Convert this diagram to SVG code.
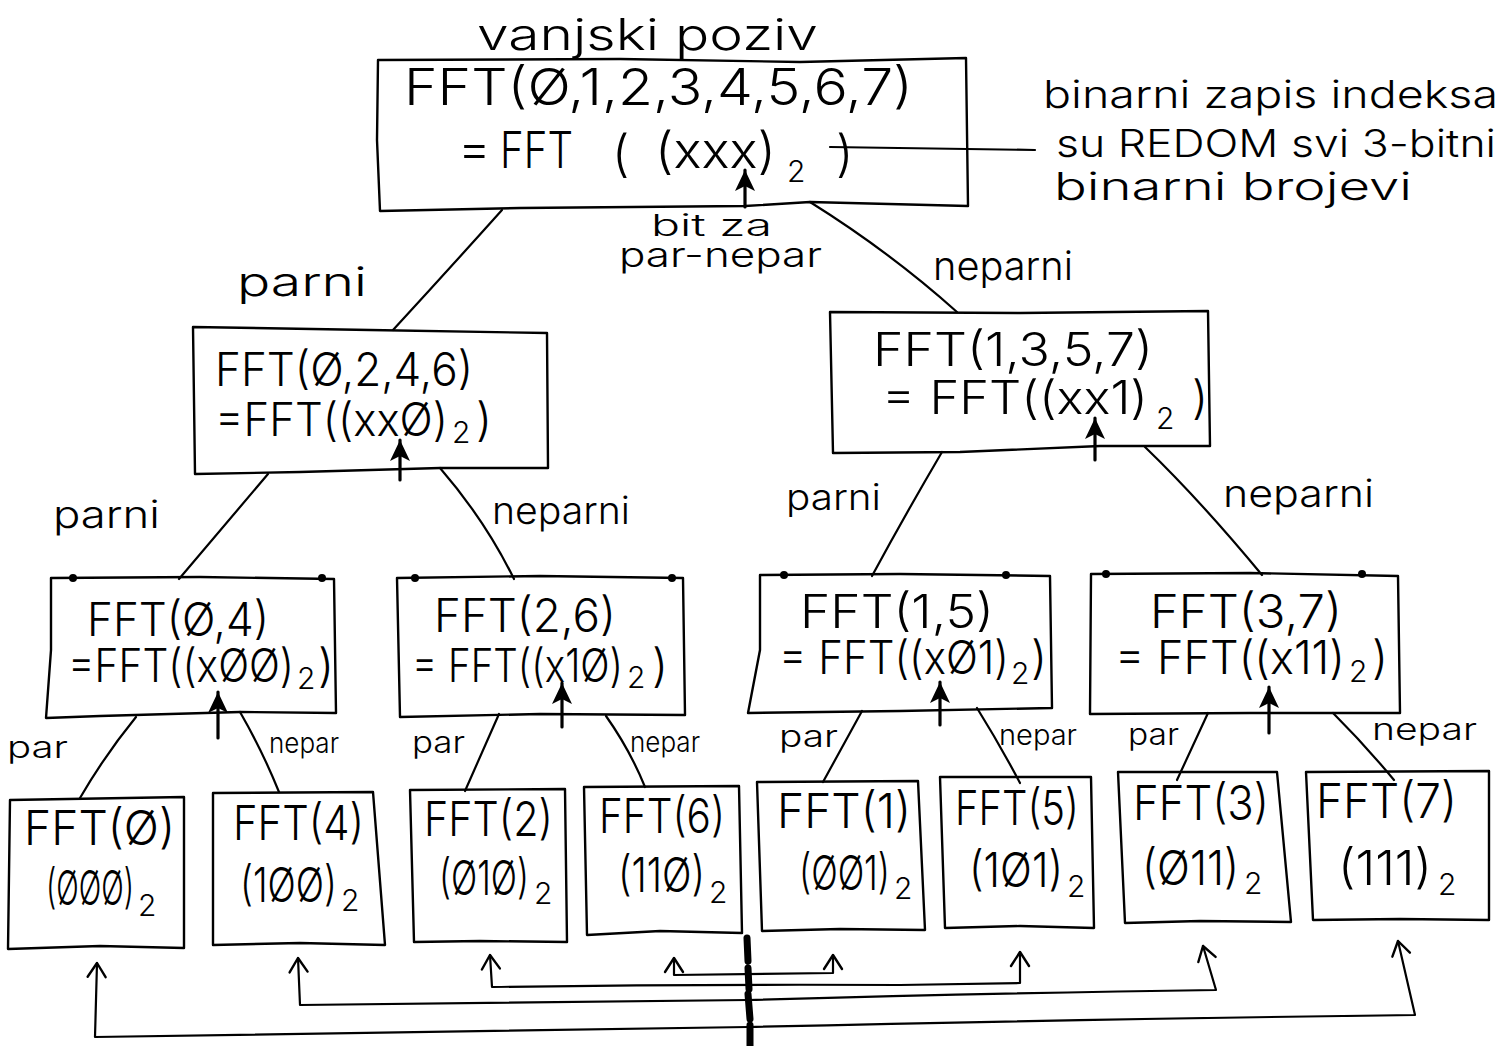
<svg xmlns="http://www.w3.org/2000/svg" width="1504" height="1046" viewBox="0 0 1504 1046">
  <defs>
    <style>
      .bg { fill: #ffffff; }
      .box { fill: none; stroke: #000; stroke-width: 2.4; stroke-linejoin: round; stroke-linecap: round; }
      .ln { fill: none; stroke: #000; stroke-width: 2.2; stroke-linejoin: round; stroke-linecap: round; }
      .bit { fill: none; stroke: #000; stroke-width: 3.2; stroke-linecap: round; }
      .mid { fill: none; stroke: #000; stroke-width: 7; stroke-linecap: round; }
      .dot { fill: #000; }
      .t { font-family: Inter, "Liberation Sans", "DejaVu Sans", sans-serif; font-weight: 300; fill: #000; }
      .f50 { font-size: 50px; }
      .f46 { font-size: 46px; }
      .f48 { font-size: 48px; }
      .f44 { font-size: 44px; }
      .f40 { font-size: 40px; }
      .f38 { font-size: 38px; }
      .f36 { font-size: 36px; }
      .f34 { font-size: 34px; }
      .f30 { font-size: 30px; }
      .f28 { font-size: 28px; }
      .sub { font-size: 30px; }
    </style>
    <!-- filled head marking the bit that splits even / odd -->
    <marker id="bitHead" viewBox="-4 -12 26 24" refX="18" refY="0" markerWidth="26" markerHeight="24" markerUnits="userSpaceOnUse" orient="auto">
      <path d="M18,0 L-3,-10 L2,0 L-3,10 Z" fill="#000"/>
    </marker>
    <!-- open head for the reordering arrows -->
    <marker id="openHead" viewBox="-16 -12 20 24" refX="0" refY="0" markerWidth="20" markerHeight="24" markerUnits="userSpaceOnUse" orient="auto-start-reverse" overflow="visible">
      <path d="M-14,-9 L0,0 L-14,9" fill="none" stroke="#000" stroke-width="2.4" stroke-linecap="round" stroke-linejoin="round"/>
    </marker>
  </defs>

  <rect class="bg" x="0" y="0" width="1504" height="1046"/>

  <!-- free labels -->
  <g id="labels">
    <text class="t f44" x="477" y="50" textLength="341" lengthAdjust="spacingAndGlyphs">vanjski poziv</text>
    <text class="t f38" x="1043" y="108" textLength="455" lengthAdjust="spacingAndGlyphs">binarni zapis indeksa</text>
    <text class="t f38" x="1056" y="157" textLength="440" lengthAdjust="spacingAndGlyphs">su REDOM svi 3-bitni</text>
    <text class="t f38" x="1054" y="200" textLength="358" lengthAdjust="spacingAndGlyphs">binarni brojevi</text>
    <text class="t f30" x="651" y="236" textLength="121" lengthAdjust="spacingAndGlyphs">bit za</text>
    <text class="t f34" x="619" y="267" textLength="203" lengthAdjust="spacingAndGlyphs">par-nepar</text>
    <text class="t f40" x="237" y="296" textLength="130" lengthAdjust="spacingAndGlyphs">parni</text>
    <text class="t f40" x="933" y="280" textLength="140" lengthAdjust="spacingAndGlyphs">neparni</text>
    <text class="t f38" x="53" y="528" textLength="107" lengthAdjust="spacingAndGlyphs">parni</text>
    <text class="t f38" x="492" y="524" textLength="138" lengthAdjust="spacingAndGlyphs">neparni</text>
    <text class="t f36" x="786" y="510" textLength="95" lengthAdjust="spacingAndGlyphs">parni</text>
    <text class="t f38" x="1223" y="507" textLength="151" lengthAdjust="spacingAndGlyphs">neparni</text>
    <text class="t f30" x="7" y="758" textLength="61" lengthAdjust="spacingAndGlyphs">par</text>
    <text class="t f28" x="269" y="753" textLength="70" lengthAdjust="spacingAndGlyphs">nepar</text>
    <text class="t f30" x="412" y="753" textLength="53" lengthAdjust="spacingAndGlyphs">par</text>
    <text class="t f28" x="630" y="752" textLength="70" lengthAdjust="spacingAndGlyphs">nepar</text>
    <text class="t f30" x="779" y="747" textLength="59" lengthAdjust="spacingAndGlyphs">par</text>
    <text class="t f28" x="999" y="745" textLength="78" lengthAdjust="spacingAndGlyphs">nepar</text>
    <text class="t f30" x="1128" y="745" textLength="51" lengthAdjust="spacingAndGlyphs">par</text>
    <text class="t f30" x="1372" y="740" textLength="105" lengthAdjust="spacingAndGlyphs">nepar</text>
  </g>

  <!-- root call -->
  <g id="fft-root">
    <path class="box" d="M378,60 L620,59 L800,62 L966,58 L968,206 L810,202 L745,206 L520,208 L380,211 L377,140 Z"/>
    <text class="t f50" x="404" y="105" textLength="509" lengthAdjust="spacingAndGlyphs">FFT(Ø,1,2,3,4,5,6,7)</text>
    <text class="t f50" x="458" y="166">=</text>
    <text class="t f50" x="500" y="168" textLength="73" lengthAdjust="spacingAndGlyphs">FFT</text>
    <text class="t f50" x="612" y="171">(</text>
    <text class="t f50" x="655" y="168" textLength="121" lengthAdjust="spacingAndGlyphs">(xxx)</text>
    <text class="t sub" x="787" y="182">2</text>
    <text class="t f50" x="836" y="171">)</text>
  </g>

  <!-- even half -->
  <g id="fft-even">
    <path class="box" d="M193,327 L370,330 L547,333 L548,468 L440,468 L300,472 L195,474 Z"/>
    <text class="t f46" x="215" y="386" textLength="258" lengthAdjust="spacingAndGlyphs">FFT(Ø,2,4,6)</text>
    <text class="t f46" x="215" y="436" textLength="233" lengthAdjust="spacingAndGlyphs">=FFT((xxØ)</text>
    <text class="t sub" x="452" y="443">2</text>
    <text class="t f46" x="476" y="436">)</text>
  </g>

  <!-- odd half -->
  <g id="fft-odd">
    <path class="box" d="M830,312 L1020,313 L1208,311 L1210,446 L1100,446 L960,452 L833,453 Z"/>
    <text class="t f46" x="873" y="366" textLength="280" lengthAdjust="spacingAndGlyphs">FFT(1,3,5,7)</text>
    <text class="t f46" x="882" y="414" textLength="266" lengthAdjust="spacingAndGlyphs">= FFT((xx1)</text>
    <text class="t sub" x="1156" y="429">2</text>
    <text class="t f46" x="1192" y="414">)</text>
  </g>

  <!-- quarter calls -->
  <g id="fft-0-4">
    <path class="box" d="M51,578 L200,577 L334,579 L336,713 L240,712 L100,716 L46,718 L51,650 Z"/>
    <circle class="dot" cx="73" cy="578" r="4"/>
    <circle class="dot" cx="322" cy="578" r="4"/>
    <text class="t f46" x="87" y="636" textLength="182" lengthAdjust="spacingAndGlyphs">FFT(Ø,4)</text>
    <text class="t f46" x="68" y="682" textLength="226" lengthAdjust="spacingAndGlyphs">=FFT((xØØ)</text>
    <text class="t sub" x="297" y="689">2</text>
    <text class="t f46" x="318" y="682">)</text>
  </g>
  <g id="fft-2-6">
    <path class="box" d="M397,578 L540,576 L683,578 L685,715 L540,714 L400,717 Z"/>
    <circle class="dot" cx="415" cy="578" r="4"/>
    <circle class="dot" cx="672" cy="578" r="4"/>
    <text class="t f46" x="434" y="632" textLength="182" lengthAdjust="spacingAndGlyphs">FFT(2,6)</text>
    <text class="t f46" x="412" y="682" textLength="211" lengthAdjust="spacingAndGlyphs">= FFT((x1Ø)</text>
    <text class="t sub" x="627" y="688">2</text>
    <text class="t f46" x="652" y="682">)</text>
  </g>
  <g id="fft-1-5">
    <path class="box" d="M760,575 L900,574 L1050,576 L1052,708 L900,711 L748,713 L760,650 Z"/>
    <circle class="dot" cx="784" cy="575" r="4"/>
    <circle class="dot" cx="1006" cy="575" r="4"/>
    <text class="t f46" x="800" y="628" textLength="194" lengthAdjust="spacingAndGlyphs">FFT(1,5)</text>
    <text class="t f46" x="779" y="674" textLength="230" lengthAdjust="spacingAndGlyphs">= FFT((xØ1)</text>
    <text class="t sub" x="1011" y="684">2</text>
    <text class="t f46" x="1031" y="674">)</text>
  </g>
  <g id="fft-3-7">
    <path class="box" d="M1091,574 L1250,573 L1398,576 L1400,713 L1250,713 L1090,714 Z"/>
    <circle class="dot" cx="1106" cy="574" r="4"/>
    <circle class="dot" cx="1362" cy="574" r="4"/>
    <text class="t f46" x="1150" y="628" textLength="192" lengthAdjust="spacingAndGlyphs">FFT(3,7)</text>
    <text class="t f46" x="1115" y="674" textLength="230" lengthAdjust="spacingAndGlyphs">= FFT((x11)</text>
    <text class="t sub" x="1349" y="682">2</text>
    <text class="t f46" x="1372" y="674">)</text>
  </g>

  <!-- single-element calls -->
  <g id="fft-0">
    <path class="box" d="M10,800 L184,797 L184,948 L100,946 L8,949 Z"/>
    <text class="t f48" x="24" y="845" textLength="151" lengthAdjust="spacingAndGlyphs">FFT(Ø)</text>
    <text class="t f48" x="46" y="905" textLength="88" lengthAdjust="spacingAndGlyphs">(ØØØ)</text>
    <text class="t sub" x="138" y="916">2</text>
  </g>
  <g id="fft-4">
    <path class="box" d="M213,793 L373,792 L385,945 L300,943 L213,945 Z"/>
    <text class="t f48" x="233" y="840" textLength="131" lengthAdjust="spacingAndGlyphs">FFT(4)</text>
    <text class="t f48" x="240" y="902" textLength="97" lengthAdjust="spacingAndGlyphs">(1ØØ)</text>
    <text class="t sub" x="341" y="911">2</text>
  </g>
  <g id="fft-2">
    <path class="box" d="M410,790 L565,789 L567,942 L480,941 L414,942 Z"/>
    <text class="t f48" x="424" y="836" textLength="129" lengthAdjust="spacingAndGlyphs">FFT(2)</text>
    <text class="t f48" x="439" y="895" textLength="90" lengthAdjust="spacingAndGlyphs">(Ø1Ø)</text>
    <text class="t sub" x="534" y="904">2</text>
  </g>
  <g id="fft-6">
    <path class="box" d="M584,787 L739,786 L742,933 L660,931 L587,935 Z"/>
    <text class="t f48" x="599" y="833" textLength="126" lengthAdjust="spacingAndGlyphs">FFT(6)</text>
    <text class="t f48" x="618" y="892" textLength="87" lengthAdjust="spacingAndGlyphs">(11Ø)</text>
    <text class="t sub" x="709" y="903">2</text>
  </g>
  <g id="fft-1">
    <path class="box" d="M757,782 L918,781 L925,930 L840,929 L762,931 Z"/>
    <text class="t f48" x="777" y="828" textLength="134" lengthAdjust="spacingAndGlyphs">FFT(1)</text>
    <text class="t f48" x="799" y="890" textLength="91" lengthAdjust="spacingAndGlyphs">(ØØ1)</text>
    <text class="t sub" x="894" y="899">2</text>
  </g>
  <g id="fft-5">
    <path class="box" d="M940,777 L1091,777 L1094,928 L1020,926 L945,928 Z"/>
    <text class="t f48" x="955" y="825" textLength="124" lengthAdjust="spacingAndGlyphs">FFT(5)</text>
    <text class="t f48" x="969" y="887" textLength="94" lengthAdjust="spacingAndGlyphs">(1Ø1)</text>
    <text class="t sub" x="1067" y="897">2</text>
  </g>
  <g id="fft-3">
    <path class="box" d="M1118,772 L1277,772 L1291,922 L1200,921 L1125,923 Z"/>
    <text class="t f48" x="1133" y="820" textLength="136" lengthAdjust="spacingAndGlyphs">FFT(3)</text>
    <text class="t f48" x="1142" y="885" textLength="97" lengthAdjust="spacingAndGlyphs">(Ø11)</text>
    <text class="t sub" x="1244" y="894">2</text>
  </g>
  <g id="fft-7">
    <path class="box" d="M1306,772 L1489,771 L1489,920 L1400,919 L1313,920 Z"/>
    <text class="t f48" x="1316" y="818" textLength="141" lengthAdjust="spacingAndGlyphs">FFT(7)</text>
    <text class="t f48" x="1338" y="885" textLength="94" lengthAdjust="spacingAndGlyphs">(111)</text>
    <text class="t sub" x="1438" y="895">2</text>
  </g>

  <!-- connectors -->
  <g id="connectors">
    <!-- recursion tree -->
    <path class="ln" d="M502,210 Q450,268 393,330"/>
    <path class="ln" d="M810,202 Q890,252 957,312"/>
    <path class="ln" d="M268,474 Q225,525 179,579"/>
    <path class="ln" d="M440,468 Q485,520 514,579"/>
    <path class="ln" d="M942,452 Q905,515 872,576"/>
    <path class="ln" d="M1145,447 Q1200,500 1262,575"/>
    <path class="ln" d="M136,717 Q105,755 80,798"/>
    <path class="ln" d="M240,712 Q262,750 279,792"/>
    <path class="ln" d="M499,714 L465,791"/>
    <path class="ln" d="M606,716 Q630,750 645,787"/>
    <path class="ln" d="M862,711 L823,782"/>
    <path class="ln" d="M977,708 Q1000,745 1020,783"/>
    <path class="ln" d="M1208,713 L1177,780"/>
    <path class="ln" d="M1333,713 Q1365,745 1394,780"/>

    <!-- note pointer -->
    <path class="ln" d="M830,147 L1035,150"/>

    <!-- split bit markers -->
    <path class="bit" d="M745,207 L745,170" marker-end="url(#bitHead)"/>
    <path class="bit" d="M400,480 L400,440" marker-end="url(#bitHead)"/>
    <path class="bit" d="M1095,460 L1095,418" marker-end="url(#bitHead)"/>
    <path class="bit" d="M218,738 L218,692" marker-end="url(#bitHead)"/>
    <path class="bit" d="M562,727 L562,683" marker-end="url(#bitHead)"/>
    <path class="bit" d="M940,725 L940,682" marker-end="url(#bitHead)"/>
    <path class="bit" d="M1269,733 L1269,687" marker-end="url(#bitHead)"/>

    <!-- mirrored pairs around the middle -->
    <path class="ln" d="M674,958 L674,975 L833,973 L833,955" marker-start="url(#openHead)" marker-end="url(#openHead)"/>
    <path class="ln" d="M490,955 L492,987 Q700,984 900,985 L1020,983 L1020,952" marker-start="url(#openHead)" marker-end="url(#openHead)"/>
    <path class="ln" d="M298,958 L300,1005 Q550,1002 748,1000 Q1000,993 1216,990 L1203,946" marker-start="url(#openHead)" marker-end="url(#openHead)"/>
    <path class="ln" d="M97,963 L95,1037 Q400,1031 748,1027 Q1100,1019 1415,1015 L1398,941" marker-start="url(#openHead)" marker-end="url(#openHead)"/>

    <!-- middle divider -->
    <path class="mid" d="M747,938 L748,961 M748,968 L749,989 M748,994 L750,1019 M750,1025 L750,1046"/>
  </g>
</svg>
